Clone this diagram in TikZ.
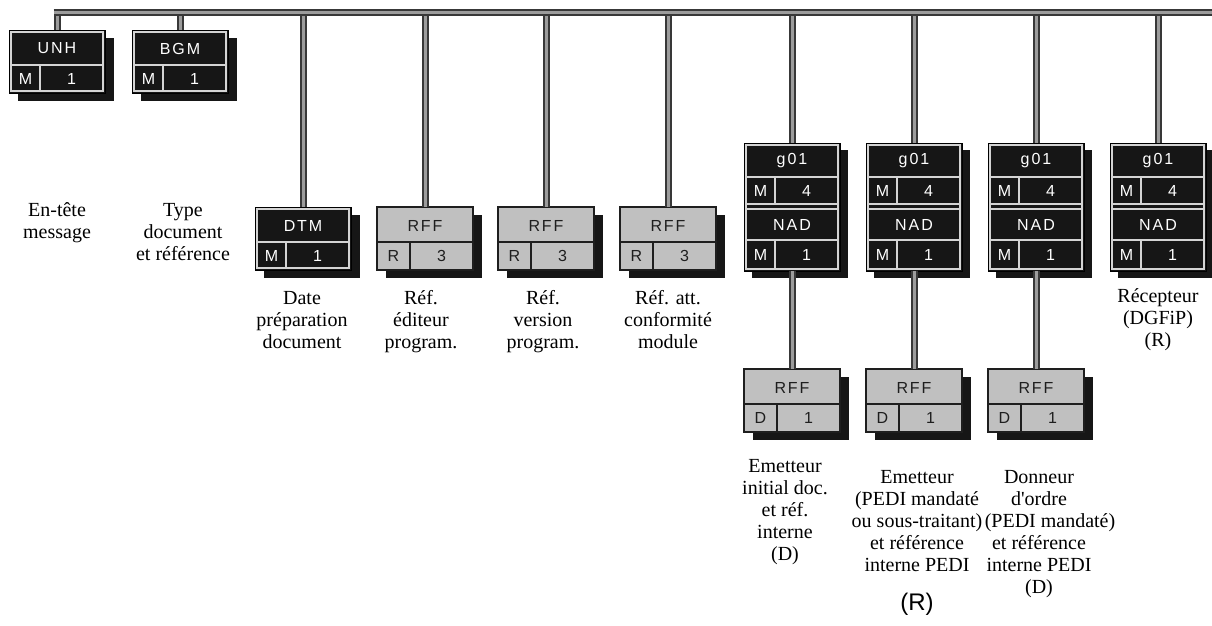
\documentclass[tikz,border=0pt]{standalone}
\usepackage{fontspec}
\setmainfont{Liberation Serif}
\newfontfamily\boxfont{Liberation Sans}[LetterSpace=12]
\newfontfamily\arialfont{Liberation Sans}
\definecolor{segBlack}{HTML}{161616}
\definecolor{segGray}{HTML}{C0C0C0}
\definecolor{lineLight}{HTML}{D4D4D4}
\definecolor{lineDark}{HTML}{1E1E1E}
\definecolor{connDark}{HTML}{383838}
\definecolor{connLight}{HTML}{9C9C9C}
\tikzset{
  conn/.style={draw=connDark, line width=2pt, double=connLight, double distance=3pt},
  segframe/.style={draw=black, line width=1pt, minimum width=96pt, inner sep=0pt, anchor=north west, outer sep=0pt},
  lightln/.style={draw=lineLight, line width=1.2pt},
  darkln/.style={draw=lineDark, line width=1.3pt},
  boxtxt/.style={font=\boxfont\fontsize{16}{18}\selectfont, inner sep=0pt, anchor=center},
  lbl/.style={font=\fontsize{20}{22}\selectfont, align=center, anchor=base, inner sep=0pt},
}
\newcommand\darkbox[6]{%
  \fill[segBlack] (#2+9,#3+8) rectangle ++(96,63);
  \node[segframe, fill=segBlack, minimum height=63pt] (#1) at (#2,#3) {};
  \draw[lightln] (#2+2,#3+2) rectangle (#2+94,#3+61);
  \draw[lightln] (#2+2,#3+35) -- (#2+94,#3+35);
  \draw[lightln] (#2+31,#3+35) -- (#2+31,#3+61);
  \node[boxtxt, text=white] (#1-l) at (#2+48,#3+18.5) {#4};
  \node[boxtxt, text=white] (#1-s) at (#2+16.5,#3+48.5) {#5};
  \node[boxtxt, text=white] (#1-r) at (#2+62.5,#3+48.5) {#6};
}
\newcommand\graybox[6]{%
  \fill[segBlack] (#2+9,#3+8) rectangle ++(96,63);
  \node[segframe, fill=segGray, draw=lineDark, line width=1.4pt, minimum height=63pt] (#1) at (#2,#3) {};
  \draw[darkln] (#2,#3+35) -- (#2+96,#3+35);
  \draw[darkln] (#2+33,#3+35) -- (#2+33,#3+63);
  \node[boxtxt, text=lineDark] (#1-l) at (#2+48,#3+18.5) {#4};
  \node[boxtxt, text=lineDark] (#1-s) at (#2+16.5,#3+49) {#5};
  \node[boxtxt, text=lineDark] (#1-r) at (#2+64.5,#3+49) {#6};
}
\newcommand\groupbox[3]{%
  \fill[segBlack] (#2+8,#3+7) rectangle ++(96,128);
  \node[segframe, fill=segBlack, minimum height=128pt] (#1) at (#2,#3) {};
  \draw[lightln] (#2+2,#3+2) rectangle (#2+94,#3+126);
  \draw[lightln] (#2+2,#3+34) -- (#2+94,#3+34);
  \draw[lightln] (#2+2,#3+61) -- (#2+94,#3+61);
  \draw[lightln] (#2+2,#3+66) -- (#2+94,#3+66);
  \draw[lightln] (#2+2,#3+97) -- (#2+94,#3+97);
  \draw[lightln] (#2+31,#3+34) -- (#2+31,#3+61);
  \draw[lightln] (#2+31,#3+97) -- (#2+31,#3+126);
  \node[boxtxt, text=white] (#1-g) at (#2+48,#3+17.5) {g01};
  \node[boxtxt, text=white] (#1-gs) at (#2+16.5,#3+48) {M};
  \node[boxtxt, text=white] (#1-gr) at (#2+62.5,#3+48) {4};
  \node[boxtxt, text=white] (#1-n) at (#2+48,#3+81.5) {NAD};
  \node[boxtxt, text=white] (#1-ns) at (#2+16.5,#3+111.5) {M};
  \node[boxtxt, text=white] (#1-nr) at (#2+62.5,#3+111.5) {1};
}
\begin{document}
\begin{tikzpicture}[x=1pt,y=-1pt]
\useasboundingbox (0,0) rectangle (1212,625);
% boxes
\darkbox{unh}{9}{30}{UNH}{M}{1}
\darkbox{bgm}{132}{30}{BGM}{M}{1}
\darkbox{dtm}{255}{207}{DTM}{M}{1}
\graybox{rffa}{377}{207}{RFF}{R}{3}
\graybox{rffb}{498}{207}{RFF}{R}{3}
\graybox{rffc}{620}{207}{RFF}{R}{3}
\groupbox{ga}{744}{143}
\groupbox{gb}{866}{143}
\groupbox{gc}{988}{143}
\groupbox{gd}{1110}{143}
\graybox{rfd}{744}{369}{RFF}{D}{1}
\graybox{rfe}{866}{369}{RFF}{D}{1}
\graybox{rff}{988}{369}{RFF}{D}{1}
% bus and connectors
\coordinate (busR) at (1212,12.5);
\foreach \b in {unh,bgm,dtm,rffa,rffb,rffc,ga,gb,gc,gd}{
  \draw[conn] (\b.north) -- (\b.north |- busR);
}
\draw[conn] ([xshift=-3.5pt]unh.north |- busR) -- (busR);
\draw[conn] (ga.south) -- (rfd.north);
\draw[conn] (gb.south) -- (rfe.north);
\draw[conn] (gc.south) -- (rff.north);
% labels (anchor = baseline of last line)
\node[lbl] (t-unh) at (57,238) {En-tête\\message};
\node[lbl] (t-bgm) at (183,260) {Type\\document\\et référence};
\node[lbl] (t-dtm) at (302,348) {Date\\préparation\\document};
\node[lbl] (t-rffa) at (421,348) {Réf.\\éditeur\\program.};
\node[lbl] (t-rffb) at (543,348) {Réf.\\version\\program.};
\node[lbl] (t-rffc) at (668,348) {Réf. att.\\conformité\\module};
\node[lbl] (t-gd) at (1158,346) {Récepteur\\(DGFiP)\\(R)};
\node[lbl] (t-rfd) at (785,560) {Emetteur\\initial doc.\\et réf.\\interne\\(D)};
\node[lbl] (t-rfe) at (917,571) {Emetteur\\(PEDI mandaté\\ou sous-traitant)\\et référence\\interne PEDI};
\node[font=\arialfont\fontsize{24}{26}\selectfont, anchor=base, inner sep=0pt] (t-rfe-r) at (917,610) {(R)};
\node[lbl] (t-rff) at (1039,593) {Donneur\\d\textquotesingle ordre\\\hspace*{22pt}(PEDI mandaté)\\et référence\\interne PEDI\\(D)};
\end{tikzpicture}
\end{document}
